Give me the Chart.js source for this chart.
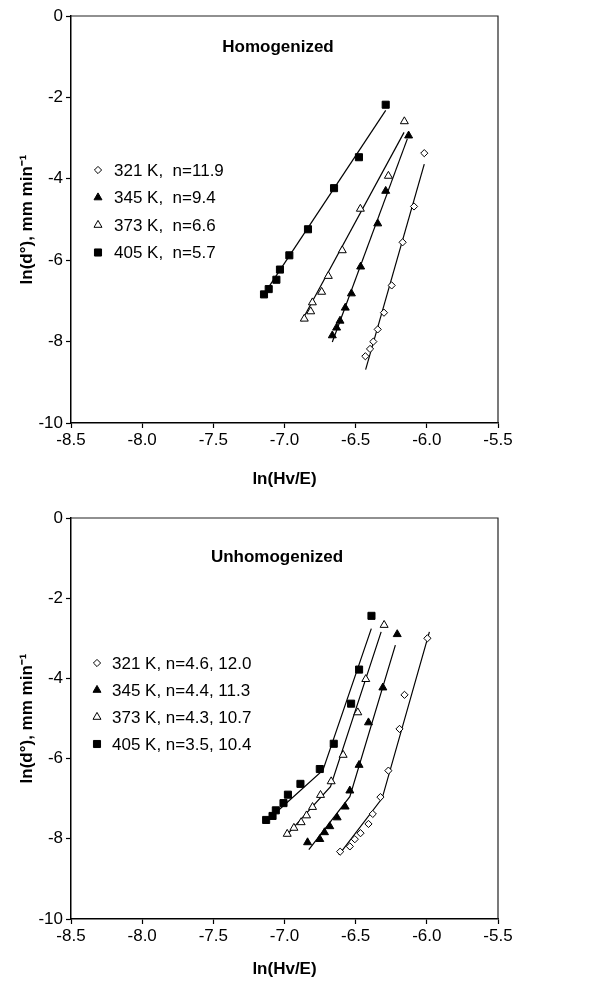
<!DOCTYPE html>
<html>
<head>
<meta charset="utf-8">
<script src="https://cdn.jsdelivr.net/npm/chart.js"></script>
<style>
  body { margin: 0; background: #fff; }
  #wrap { position: relative; width: 604px; height: 983px; }
  canvas { position: absolute; left: 0; }
</style>
</head>
<body>
<div id="wrap">
  <canvas id="chartHomo" width="604" height="492" style="top:0px"></canvas>
  <canvas id="chartUnhomo" width="604" height="491" style="top:492px"></canvas>
</div>
<script>
// ---- Homogenized (top panel) ----
const h321x = [-6.432, -6.399, -6.376, -6.345, -6.301, -6.247, -6.170, -6.090, -6.018];
const h321y = [-8.36, -8.18, -8.00, -7.70, -7.29, -6.62, -5.56, -4.68, -3.37];
const h345x = [-6.664, -6.634, -6.610, -6.573, -6.530, -6.465, -6.345, -6.289, -6.128];
const h345y = [-7.85, -7.66, -7.49, -7.17, -6.82, -6.16, -5.10, -4.30, -2.94];
const h373x = [-6.861, -6.816, -6.804, -6.739, -6.692, -6.594, -6.467, -6.270, -6.158];
const h373y = [-7.44, -7.26, -7.04, -6.78, -6.39, -5.76, -4.74, -3.93, -2.59];
const h405x = [-7.144, -7.111, -7.057, -7.032, -6.966, -6.835, -6.652, -6.477, -6.289];
const h405y = [-6.84, -6.71, -6.48, -6.23, -5.88, -5.24, -4.23, -3.47, -2.18];

// fitted lines (end points)
const h321fitX = [-6.43, -6.018];  const h321fitY = [-8.69, -3.64];
const h345fitX = [-6.664, -6.137]; const h345fitY = [-8.01, -3.02];
const h373fitX = [-6.88, -6.16];   const h373fitY = [-7.50, -2.86];
const h405fitX = [-7.16, -6.289];  const h405fitY = [-6.92, -2.32];

const homoLabels = ['321 K,  n=11.9', '345 K,  n=9.4', '373 K,  n=6.6', '405 K,  n=5.7'];

// ---- Unhomogenized (bottom panel) ----
const u321x = [-6.609, -6.541, -6.506, -6.466, -6.410, -6.380, -6.326, -6.270, -6.192, -6.157, -5.996];
const u321y = [-8.32, -8.19, -8.01, -7.86, -7.63, -7.38, -6.96, -6.30, -5.26, -4.41, -3.00];
const u345x = [-6.838, -6.752, -6.719, -6.682, -6.630, -6.574, -6.541, -6.476, -6.410, -6.309, -6.208];
const u345y = [-8.09, -8.01, -7.84, -7.69, -7.47, -7.20, -6.80, -6.16, -5.10, -4.23, -2.90];
const u373x = [-6.981, -6.934, -6.883, -6.845, -6.803, -6.747, -6.672, -6.588, -6.485, -6.429, -6.300];
const u373y = [-7.88, -7.73, -7.59, -7.42, -7.21, -6.91, -6.57, -5.91, -4.85, -4.02, -2.67];
const u405x = [-7.129, -7.084, -7.061, -7.007, -6.976, -6.888, -6.752, -6.654, -6.532, -6.476, -6.389];
const u405y = [-7.53, -7.43, -7.29, -7.11, -6.90, -6.63, -6.26, -5.63, -4.63, -3.78, -2.44];

// two-slope fitted lines (start, kink, end)
const u321fitX = [-6.618, -6.314, -5.982]; const u321fitY = [-8.40, -6.99, -2.84];
const u345fitX = [-6.829, -6.541, -6.221]; const u345fitY = [-8.27, -6.95, -3.17];
const u373fitX = [-6.993, -6.677, -6.321]; const u373fitY = [-7.94, -6.70, -2.84];
const u405fitX = [-7.13, -6.73, -6.39];    const u405fitY = [-7.57, -6.29, -2.76];

const unhomoLabels = ['321 K, n=4.6, 12.0', '345 K, n=4.4, 11.3', '373 K, n=4.3, 10.7', '405 K, n=3.5, 10.4'];

// axis ticks
const xTicks = [-8.5, -8.0, -7.5, -7.0, -6.5, -6.0, -5.5];
const yTicks = [0, -2, -4, -6, -8, -10];

const FONT = "'Liberation Sans', Arial, sans-serif";

// marker styles for 321, 345, 373, 405 K
const markers = [
    { pointStyle: 'rectRot', radius: 3.6, fill: '#fff' },
    { pointStyle: 'triangle', radius: 4.6, fill: '#000' },
    { pointStyle: 'triangle', radius: 4.6, fill: '#fff' },
    { pointStyle: 'rect', radius: 5, fill: '#000' }
];

function toPoints(xs, ys) {
    return xs.map((x, i) => ({ x: x, y: ys[i] }));
}

// draws panel title, in-plot legend and the top/right frame
const panelDecor = {
    id: 'panelDecor',
    afterDatasetsDraw(chart, args, opts) {
        const ctx = chart.ctx;
        const area = chart.chartArea;
        ctx.save();
        // frame
        ctx.strokeStyle = '#222';
        ctx.lineWidth = 1.2;
        ctx.beginPath();
        ctx.moveTo(area.left, area.top);
        ctx.lineTo(area.right, area.top);
        ctx.lineTo(area.right, area.bottom);
        ctx.stroke();

        // title
        ctx.fillStyle = '#000';
        ctx.font = 'bold 17px ' + FONT;
        ctx.textAlign = 'center';
        ctx.textBaseline = 'middle';
        ctx.fillText(opts.title, opts.titleX, area.top + opts.titleDy);

        // legend
        ctx.font = '17px ' + FONT;
        ctx.textAlign = 'left';
        opts.labels.forEach((label, i) => {
            const y = area.top + opts.legendDy + i * opts.legendGap;
            const m = markers[i];
            ctx.fillStyle = m.fill;
            ctx.strokeStyle = '#000';
            ctx.lineWidth = 1;
            Chart.helpers.drawPoint(ctx, { pointStyle: m.pointStyle, radius: m.radius, rotation: 0, borderWidth: 1 }, opts.markerX, y);
            ctx.fillStyle = '#000';
            ctx.fillText(label, opts.textX, y + 1);
        });
        ctx.restore();
    }
};

function makeChart(canvasId, series, fits, decor, geom) {
    const datasets = [];
    series.forEach((s, i) => {
        const m = markers[i];
        datasets.push({
            data: toPoints(s[0], s[1]),
            showLine: false,
            pointStyle: m.pointStyle,
            pointRadius: m.radius,
            pointHoverRadius: m.radius,
            backgroundColor: m.fill,
            borderColor: '#000',
            pointBorderWidth: 1,
            order: 1
        });
    });
    fits.forEach(f => {
        datasets.push({
            data: toPoints(f[0], f[1]),
            showLine: true,
            pointRadius: 0,
            borderColor: '#000',
            borderWidth: 1.2,
            fill: false,
            order: 2
        });
    });

    const ctx = document.getElementById(canvasId).getContext('2d');
    return new Chart(ctx, {
        type: 'scatter',
        data: { datasets: datasets },
        plugins: [panelDecor],
        options: {
            responsive: false,
            animation: false,
            devicePixelRatio: 1,
            layout: { padding: { left: 0, top: geom.top, right: 106, bottom: 0 } },
            plugins: {
                legend: { display: false },
                tooltip: { enabled: false },
                panelDecor: decor
            },
            scales: {
                x: {
                    type: 'linear',
                    min: -8.5,
                    max: -5.5,
                    afterFit: scale => { scale.height = geom.xAxisHeight; },
                    afterBuildTicks: scale => { scale.ticks = xTicks.map(v => ({ value: v })); },
                    ticks: {
                        color: '#000',
                        font: { family: FONT, size: 17 },
                        padding: 2,
                        callback: v => v.toFixed(1)
                    },
                    grid: { drawOnChartArea: false, drawTicks: true, tickLength: 5, tickColor: '#000', tickWidth: 1.2 },
                    border: { display: true, color: '#000', width: 1.5 },
                    title: {
                        display: true,
                        text: 'ln(Hv/E)',
                        color: '#000',
                        font: { family: FONT, size: 17, weight: 'bold' },
                        padding: { top: 0, bottom: geom.xTitlePad }
                    }
                },
                y: {
                    type: 'linear',
                    min: -10,
                    max: 0,
                    afterFit: scale => { scale.width = 71; },
                    afterBuildTicks: scale => { scale.ticks = yTicks.map(v => ({ value: v })); },
                    ticks: {
                        color: '#000',
                        font: { family: FONT, size: 17 },
                        padding: 3,
                        callback: v => String(v)
                    },
                    grid: { drawOnChartArea: false, drawTicks: true, tickLength: 5, tickColor: '#000', tickWidth: 1.2 },
                    border: { display: true, color: '#000', width: 1.5 },
                    title: {
                        display: true,
                        text: 'ln(d°), mm min⁻¹',
                        color: '#000',
                        font: { family: FONT, size: 17, weight: 'bold' },
                        padding: { top: 17, bottom: 0 }
                    }
                }
            }
        }
    });
}

makeChart('chartHomo',
    [[h321x, h321y], [h345x, h345y], [h373x, h373y], [h405x, h405y]],
    [[h321fitX, h321fitY], [h345fitX, h345fitY], [h373fitX, h373fitY], [h405fitX, h405fitY]],
    { title: 'Homogenized', titleX: 278, titleDy: 31, labels: homoLabels, markerX: 98, textX: 114, legendDy: 154, legendGap: 27.5 },
    { top: 16, xAxisHeight: 69, xTitlePad: 2 });

makeChart('chartUnhomo',
    [[u321x, u321y], [u345x, u345y], [u373x, u373y], [u405x, u405y]],
    [[u321fitX, u321fitY], [u345fitX, u345fitY], [u373fitX, u373fitY], [u405fitX, u405fitY]],
    { title: 'Unhomogenized', titleX: 277, titleDy: 39, labels: unhomoLabels, markerX: 97, textX: 112, legendDy: 145, legendGap: 27 },
    { top: 26, xAxisHeight: 64, xTitlePad: 3 });
</script>
</body>
</html>
